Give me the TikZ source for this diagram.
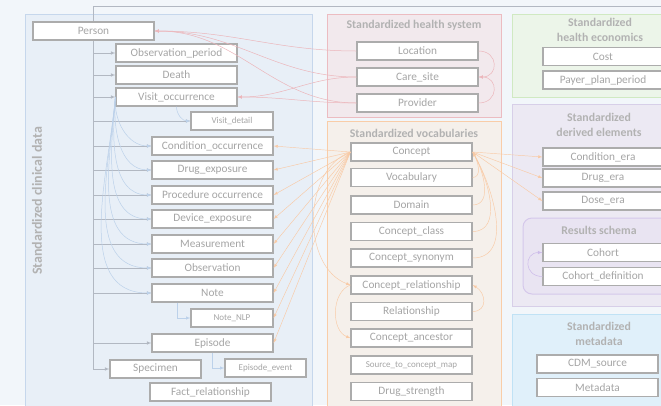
\documentclass[tikz,border=0pt]{standalone}
\usepackage{fontspec}
\setmainfont{Carlito}
\usepackage{xcolor}
\definecolor{bgcol}{RGB}{242,246,250}
\definecolor{boxgray}{RGB}{172,172,172}
\definecolor{txtgray}{RGB}{165,165,165}
\definecolor{titlegray}{RGB}{178,178,178}
\definecolor{linegray}{RGB}{178,184,194}
\definecolor{clinfill}{RGB}{232,239,247}
\definecolor{clinline}{RGB}{198,215,236}
\definecolor{hsfill}{RGB}{242,233,237}
\definecolor{hsline}{RGB}{236,188,193}
\definecolor{vocfill}{RGB}{245,240,235}
\definecolor{vocline}{RGB}{249,205,168}
\definecolor{ecofill}{RGB}{236,245,233}
\definecolor{ecoline}{RGB}{208,233,194}
\definecolor{derfill}{RGB}{236,233,243}
\definecolor{derline}{RGB}{215,207,232}
\definecolor{resfill}{RGB}{233,228,242}
\definecolor{resline}{RGB}{213,200,235}
\definecolor{metfill}{RGB}{224,240,250}
\definecolor{metline}{RGB}{192,226,245}
\definecolor{bluecurve}{RGB}{188,209,234}
\definecolor{redcurve}{RGB}{236,182,187}
\definecolor{orangecurve}{RGB}{249,202,165}
\definecolor{purplecurve}{RGB}{205,188,234}

\begin{document}
\begin{tikzpicture}[x=1pt, y=-1pt,
  tbl/.style={draw=boxgray, line width=1.2pt, fill=white, text=txtgray,
    minimum width=121pt, minimum height=18pt, inner sep=0pt,
    font=\fontsize{11.3}{12}\selectfont},
  smalltbl/.style={tbl, font=\fontsize{9}{10}\selectfont},
  paneltitle/.style={text=titlegray, font=\bfseries\fontsize{11.8}{14.5}\selectfont, align=center},
  gline/.style={draw=linegray, line width=0.55pt},
  garrow/.style={gline, -latex},
  barrow/.style={draw=bluecurve, line width=0.5pt, -latex},
  rarrow/.style={draw=redcurve, line width=0.5pt, -latex},
  oarrow/.style={draw=orangecurve, line width=0.45pt, -latex},
  parrow/.style={draw=purplecurve, line width=0.55pt, -latex}]

\useasboundingbox (0,0) rectangle (661,405);
\clip (0,0) rectangle (661,405);
\fill[bgcol] (0,0) rectangle (661,405);

% panels
\draw[clinline, fill=clinfill, line width=1pt] (25,14) rectangle (312,420);
\draw[hsline, fill=hsfill, line width=1pt] (327,14) rectangle (501,117);
\draw[vocline, fill=vocfill, line width=1pt] (327,121) rectangle (501,420);
\draw[ecoline, fill=ecofill, line width=1pt] (512,14) rectangle (680,97);
\draw[derline, fill=derfill, line width=1pt] (512,104) rectangle (680,306);
\draw[resline, fill=resfill, line width=1pt, rounded corners=9pt] (523,218) rectangle (690,294);
\draw[metline, fill=metfill, line width=1pt] (512,314) rectangle (680,420);

\node[paneltitle, font=\bfseries\fontsize{14}{16}\selectfont, rotate=90] (cliniclabel) at (37,201) {Standardized clinical data};
\node[paneltitle] (hstitle) at (414,25) {Standardized health system};
\node[paneltitle] (voctitle) at (414,133) {Standardized vocabularies};
\node[paneltitle] (ecotitle) at (600,30) {Standardized\\health economics};
\node[paneltitle] (dertitle) at (599,125) {Standardized\\derived elements};
\node[paneltitle] (restitle) at (599,230) {Results schema};
\node[paneltitle] (mettitle) at (599,334) {Standardized\\metadata};

% clinical data
\node[tbl] (Person) at (93.5,31) {Person};
\node[tbl] (ObsPeriod) at (176.5,53) {Observation\_period};
\node[tbl] (Death) at (176.5,75) {Death};
\node[tbl] (VisitOcc) at (176.5,97) {Visit\_occurrence};
\node[smalltbl, minimum width=82pt] (VisitDet) at (232,121) {Visit\_detail};
\node[tbl] (CondOcc) at (212.5,146) {Condition\_occurrence};
\node[tbl] (DrugExp) at (212.5,170) {Drug\_exposure};
\node[tbl] (ProcOcc) at (212.5,195) {Procedure occurrence};
\node[tbl] (DevExp) at (212.5,219) {Device\_exposure};
\node[tbl] (Meas) at (212.5,244) {Measurement};
\node[tbl] (Obs) at (212.5,268) {Observation};
\node[tbl] (Note) at (212.5,293) {Note};
\node[smalltbl, minimum width=82pt] (NoteNLP) at (232,318) {Note\_NLP};
\node[tbl] (Episode) at (212.5,343) {Episode};
\node[smalltbl, minimum width=81pt] (EpiEvent) at (265.5,368) {Episode\_event};
\node[tbl, minimum width=91pt] (Specimen) at (155.5,369) {Specimen};
\node[tbl] (FactRel) at (210.5,392) {Fact\_relationship};

% health system
\node[tbl] (Location) at (417.5,51) {Location};
\node[tbl] (CareSite) at (417.5,77) {Care\_site};
\node[tbl] (Provider) at (417.5,103) {Provider};

% vocabularies
\node[tbl] (Concept) at (411.5,152) {Concept};
\node[tbl] (Vocabulary) at (411.5,177.5) {Vocabulary};
\node[tbl] (Domain) at (411.5,205) {Domain};
\node[tbl] (ConceptClass) at (411.5,231.5) {Concept\_class};
\node[tbl] (ConceptSyn) at (411.5,258) {Concept\_synonym};
\node[tbl] (ConceptRel) at (411.5,285) {Concept\_relationship};
\node[tbl] (Relationship) at (411.5,311.5) {Relationship};
\node[tbl] (ConceptAnc) at (411.5,338) {Concept\_ancestor};
\node[smalltbl] (SrcToConcept) at (411.5,365) {Source\_to\_concept\_map};
\node[tbl] (DrugStrength) at (411.5,391.5) {Drug\_strength};

% health economics, derived, results, metadata
\node[tbl, minimum width=120pt] (Cost) at (603,56.5) {Cost};
\node[tbl, minimum width=120pt] (PayerPlan) at (603,80) {Payer\_plan\_period};
\node[tbl, minimum width=120pt] (CondEra) at (603,157) {Condition\_era};
\node[tbl, minimum width=120pt] (DrugEra) at (603,178) {Drug\_era};
\node[tbl, minimum width=120pt] (DoseEra) at (603,201) {Dose\_era};
\node[tbl, minimum width=120pt] (Cohort) at (603,252.5) {Cohort};
\node[tbl, minimum width=120pt] (CohortDef) at (603,276.5) {Cohort\_definition};
\node[tbl] (CDMSource) at (597.5,364) {CDM\_source};
\node[tbl] (Metadata) at (597.5,387.5) {Metadata};

\coordinate (topedge) at (661,6);

% person branches
\draw[gline] (Person.north) |- (topedge);
\draw[garrow] (Person.south) |- (Specimen.west);
\foreach \t in {ObsPeriod,Death,VisitOcc,VisitDet,CondOcc,DrugExp,ProcOcc,DevExp,Meas,Obs,Note,Episode}
  \draw[garrow] (Person.south |- \t.west) -- (\t.west);

% visit and detail links
\foreach \t in {CondOcc,DrugExp,ProcOcc,DevExp,Meas,Obs,Note}
  \draw[barrow] (VisitOcc.west) to[out=-95,in=180] (\t.west);
\draw[barrow] (VisitOcc.south) to[out=-90,in=180] (VisitDet.west);
\draw[barrow] ([xshift=-35pt]Note.south) |- (NoteNLP.west);
\draw[barrow] (Episode.south) |- (EpiEvent.west);

% health system links
\foreach \s in {Location,CareSite,Provider}
  \draw[rarrow] (\s.west) to[out=180,in=0] (Person.east);
\draw[rarrow] (CareSite.west) to[out=180,in=0] (VisitOcc.east);
\draw[rarrow] (Provider.west) to[out=180,in=0] (VisitOcc.east);
\draw[rarrow] (Location.east) to[out=0,in=0,looseness=2] (CareSite.east);
\draw[rarrow] (Provider.east) to[out=0,in=0,looseness=2] (CareSite.east);

% concept links
\foreach \t in {CondOcc,DrugExp,ProcOcc,DevExp,Meas,Obs,Note,NoteNLP,Episode}
  \draw[oarrow] (Concept.west) -- (\t.east);
\foreach \t in {CondEra,DrugEra,DoseEra}
  \draw[oarrow] (Concept.east) -- (\t.west);
\foreach \s in {Vocabulary,Domain,ConceptClass,ConceptSyn}
  \draw[oarrow] (\s.east) to[out=0,in=-60] (Concept.east);
\draw[oarrow] (Relationship.east) to[out=0,in=-30,looseness=1.5] (ConceptRel.east);
\draw[oarrow] (Concept.west) to[out=-160,in=160] (ConceptRel.west);
\draw[oarrow] (ConceptRel.west) to[out=-160,in=160] (ConceptAnc.west);

% cohort
\draw[parrow] (CohortDef.west) to[out=180,in=180,looseness=2] (Cohort.west);

\end{tikzpicture}
\end{document}
